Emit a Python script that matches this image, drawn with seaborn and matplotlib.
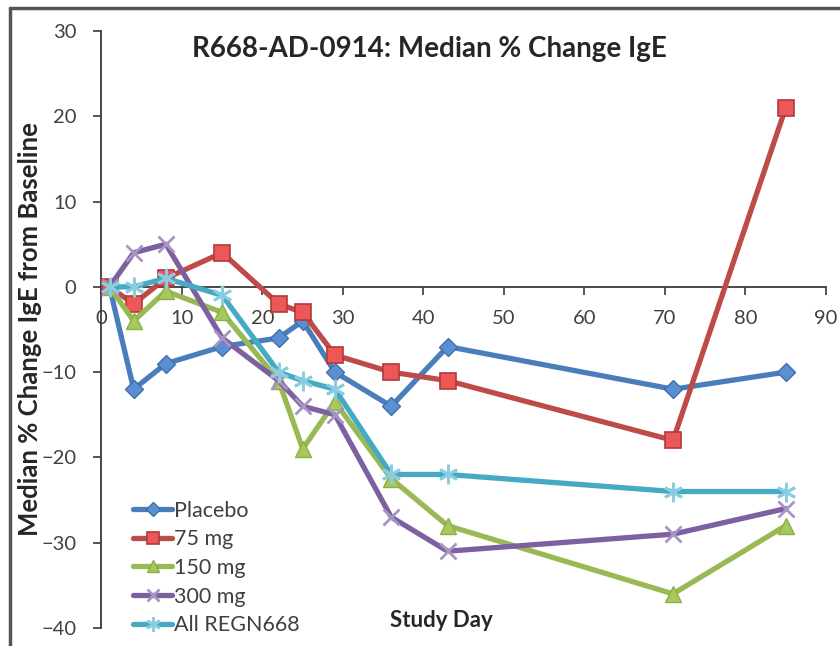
import matplotlib
matplotlib.use("Agg")
import matplotlib.pyplot as plt
from matplotlib.lines import Line2D
import pandas as pd
import seaborn as sns

# Study visits (days) and median % change in IgE from baseline per arm
study_day = [1, 4, 8, 15, 22, 25, 29, 36, 43, 71, 85]
placebo = [0, -12, -9, -7, -6, -4, -10, -14, -7, -12, -10]
mg75 = [0, -2, 1, 4, -2, -3, -8, -10, -11, -18, 21]
mg150 = [0, -4, -0.5, -3, -11, -19, -13.5, -22.5, -28, -36, -28]
mg300 = [0, 4, 5, -6, -11, -14, -15, -27, -31, -29, -26]
all_regn = [0, 0, 1, -1, -10, -11, -12, -22, -22, -24, -24]

series_names = ["Placebo", "75 mg", "150 mg", "300 mg", "All REGN668"]
series_values = [placebo, mg75, mg150, mg300, all_regn]

x_ticks = list(range(0, 100, 10))
y_ticks = list(range(-40, 40, 10))

df = pd.DataFrame(
    [(name, d, v) for name, vals in zip(series_names, series_values)
     for d, v in zip(study_day, vals)],
    columns=["arm", "day", "change"],
)

sns.set_theme(style="white")
plt.rcParams["font.family"] = ["Lato", "DejaVu Sans"]

styles = {
    "Placebo": dict(color="#4A7EBB", marker="D", markersize=9.5,
                    markerfacecolor="#5A8FD2", markeredgecolor="#3F70AE",
                    markeredgewidth=1.0),
    "75 mg": dict(color="#BE4B48", marker="s", markersize=12,
                  markerfacecolor="#EC5858", markeredgecolor="#B03A38",
                  markeredgewidth=1.2),
    "150 mg": dict(color="#98B954", marker="^", markersize=12,
                   markerfacecolor="#A6C85C", markeredgecolor="#8DAF4A",
                   markeredgewidth=1.0),
    "300 mg": dict(color="#7D60A0", marker="x", markersize=12,
                   markeredgecolor="#A795C4", markeredgewidth=2.0),
    "All REGN668": dict(color="#46AAC5", marker=(6, 2, 0), markersize=14,
                        markeredgecolor="#8ACCE0", markeredgewidth=2.0),
}

fig = plt.figure(figsize=(8.4, 6.46), dpi=100)
ax = fig.add_axes([0.1208, 0.0279, 0.8625, 0.9241])

for name in series_names:
    sub = df[df["arm"] == name]
    st = styles[name]
    if name in ("300 mg", "All REGN668"):
        # light halo beneath open markers so the line breaks around them
        sns.lineplot(data=sub, x="day", y="change", ax=ax, linewidth=0,
                     marker="o", markersize=11, markerfacecolor="white",
                     markeredgecolor="white", alpha=0.85, legend=False,
                     zorder=3)
    sns.lineplot(data=sub, x="day", y="change", ax=ax, linewidth=3.8,
                 label=name, zorder=4, **st)

ax.set_xlim(0, 90)
ax.set_ylim(-40, 30)
ax.set_xticks(x_ticks)
ax.set_yticks(y_ticks)

for side in ("top", "right"):
    ax.spines[side].set_visible(False)
ax.spines["bottom"].set_position(("data", 0))
ax.spines["bottom"].set_color("#3a3a3a")
ax.spines["left"].set_color("#3a3a3a")
ax.spines["bottom"].set_linewidth(1.3)
ax.spines["left"].set_linewidth(1.3)
ax.tick_params(axis="x", direction="out", length=6, width=1.2,
               color="#3a3a3a", labelsize=14.5, labelcolor="#404040", pad=11,
               bottom=True)
ax.tick_params(axis="y", direction="out", length=6, width=1.2,
               color="#3a3a3a", labelsize=14.5, labelcolor="#404040", pad=12,
               left=True)
ax.grid(False)

ax.text(0.453, 0.97, "R668-AD-0914: Median % Change IgE",
        transform=ax.transAxes, ha="center", va="center", fontsize=20,
        fontweight="bold", color="#262626")
ax.set_ylabel("Median % Change IgE from Baseline", fontsize=18.5,
              fontweight="bold", color="#262626")
ax.yaxis.set_label_coords(-0.082, 0.5)
ax.set_xlabel("Study Day", fontsize=16, fontweight="bold", color="#262626")
ax.xaxis.set_label_coords(0.469, 0.013)
ax.xaxis.label.set_verticalalignment("center")

leg = ax.legend(loc="lower left", bbox_to_anchor=(0.043, -0.012),
                frameon=False, fontsize=15.5, handlelength=1.85,
                handletextpad=0.08, labelspacing=0.4, borderpad=0,
                borderaxespad=0, markerscale=0.75)
for t in leg.get_texts():
    t.set_color("#404040")

# outer frame of the chart area
fig.add_artist(Line2D([10 / 840, 1], [1 - 8 / 646] * 2,
                      transform=fig.transFigure, color="#555555", lw=2.5))
fig.add_artist(Line2D([10 / 840] * 2, [0, 1 - 8 / 646],
                      transform=fig.transFigure, color="#555555", lw=2.5))

fig.savefig("out.png", dpi=100, facecolor="white")
